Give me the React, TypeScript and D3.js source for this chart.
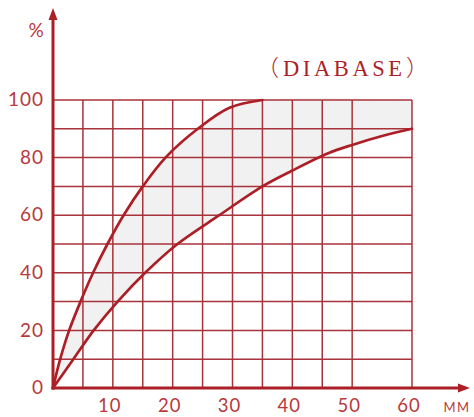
import { area, curveCatmullRom, line, scaleLinear } from 'd3'

// values
const upperCurve: Array<[number, number]> = [
  [0, 0], [1.2, 10], [2.7, 20], [4.6, 30], [6.7, 40], [9.1, 50], [11.8, 60],
  [15, 70], [18.8, 80], [24.2, 90], [29.5, 97.3], [35, 100],
]
const lowerCurve: Array<[number, number]> = [
  [0, 0], [3.4, 10], [6.8, 20], [10.8, 30], [15.4, 40], [20.8, 50], [27.8, 60],
  [35, 70], [40, 75.5], [46, 81.5], [50, 84.4], [55, 87.5], [60, 90],
]
const xGrid = [5, 10, 15, 20, 25, 30, 35, 40, 45, 50, 60]
const yGrid = [10, 20, 30, 40, 50, 60, 70, 80, 90, 100]
const xTicks = [10, 20, 30, 40, 50, 60]
const yTicks = [0, 20, 40, 60, 80, 100]
const title = 'DIABASE'

const width = 474
const height = 417
const red = '#ad1f27'
const gridRed = '#a8333a'
const textRed = '#b8393c'

export default function App() {
  const x = scaleLinear().domain([0, 60]).range([53, 412])
  const y = scaleLinear().domain([0, 100]).range([388, 100])

  const lineGen = line<[number, number]>()
    .x((d) => x(d[0]))
    .y((d) => y(d[1]))
    .curve(curveCatmullRom.alpha(0.5))

  const areaGen = area<[number, number]>()
    .x((d) => x(d[0]))
    .y0(y(0))
    .y1((d) => y(d[1]))
    .curve(curveCatmullRom.alpha(0.5))

  const upperFilled: Array<[number, number]> = [...upperCurve, [60, 100]]

  return (
    <svg width={width} height={height} style={{ display: 'block' }}>
      <style>{`body{margin:0}`}</style>
      <rect width={width} height={height} fill="#fff" />

      <path d={areaGen(upperFilled) ?? ''} fill="#f1f1f2" />
      <path d={areaGen(lowerCurve) ?? ''} fill="#fff" />

      {xGrid.map((v) => (
        <line key={`vx-${v}`} x1={x(v)} x2={x(v)} y1={y(100)} y2={y(0)} stroke={gridRed} strokeWidth={1.5} />
      ))}
      {yGrid.map((v) => (
        <line key={`hy-${v}`} x1={x(0)} x2={x(60)} y1={y(v)} y2={y(v)} stroke={gridRed} strokeWidth={1.5} />
      ))}

      <path d={lineGen(upperCurve) ?? ''} fill="none" stroke={red} strokeWidth={2.7} strokeLinecap="round" />
      <path d={lineGen(lowerCurve) ?? ''} fill="none" stroke={red} strokeWidth={2.7} strokeLinecap="round" />

      {/* axes with arrows */}
      <line x1={x(0)} x2={x(0)} y1={y(0) + 1.5} y2={16} stroke={red} strokeWidth={3} />
      <path d={`M${x(0) - 4.5},${20} L${x(0)},${8} L${x(0) + 4.5},${20} Z`} fill={red} />
      <line x1={x(0) - 1.5} x2={462} y1={y(0)} y2={y(0)} stroke={red} strokeWidth={3} />
      <path d={`M${458},${y(0) - 4.5} L${470},${y(0)} L${458},${y(0) + 4.5} Z`} fill={red} />

      <g fontFamily="Lato, 'DejaVu Sans', sans-serif" fill={textRed}>
        {yTicks.map((v) => (
          <text key={`yt-${v}`} x={44} y={y(v)} dy="0.33em" textAnchor="end" fontSize={19} letterSpacing={1}>
            {v}
          </text>
        ))}
        {xTicks.map((v) => (
          <text key={`xt-${v}`} x={x(v) - 3} y={412} textAnchor="middle" fontSize={18.5} letterSpacing={1}>
            {v}
          </text>
        ))}
        <text x={36} y={37} textAnchor="middle" fontSize={19}>%</text>
        <text x={457} y={412} textAnchor="middle" fontSize={13} letterSpacing={1.5}>MM</text>
      </g>

      <g fill={red} fontSize={22.5}>
        <text x={279} y={76} textAnchor="end" fontFamily="'Noto Sans CJK SC', sans-serif" fontWeight={300}>（</text>
        <text x={283} y={76} fontFamily="'Liberation Serif', 'DejaVu Serif', serif" letterSpacing={3.6}>
          {title}
        </text>
        <text x={406} y={76} fontFamily="'Noto Sans CJK SC', sans-serif" fontWeight={300}>）</text>
      </g>
    </svg>
  )
}
